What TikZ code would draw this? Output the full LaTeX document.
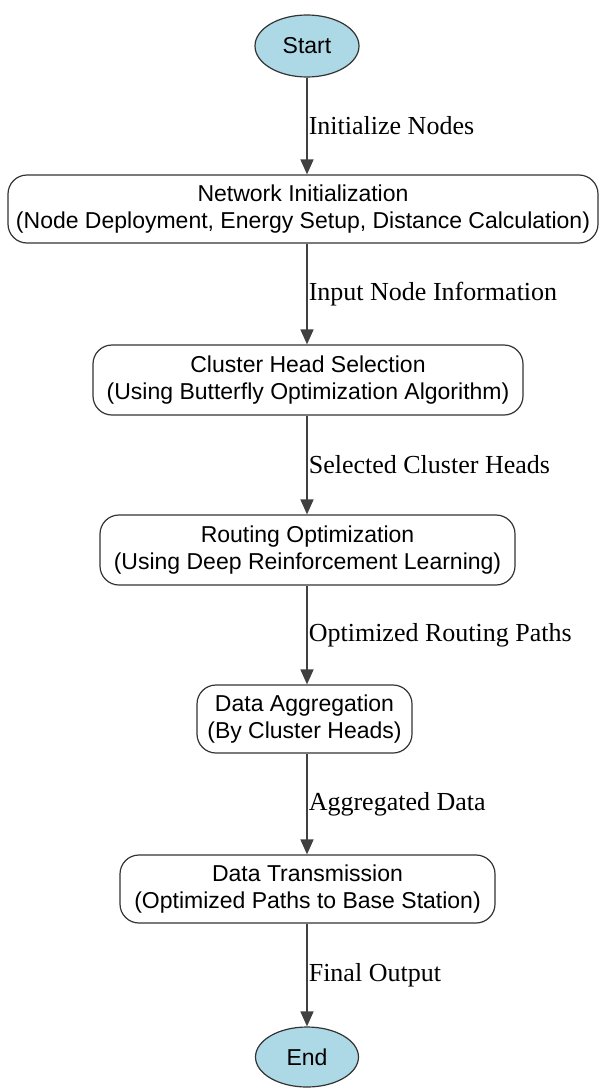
\documentclass[tikz,border=0pt]{standalone}
\usepackage{fontspec}
\setmainfont{Liberation Serif}
\newfontfamily\boxfont{Liberation Sans}
\usetikzlibrary{arrows.meta,shapes.geometric}
\definecolor{termblue}{RGB}{173,216,230}
\tikzset{
	term/.style={ellipse,draw=black!80,line width=1.2pt,fill=termblue,minimum width=104pt,minimum height=62pt,inner sep=0pt,font=\boxfont\fontsize{23}{28}\selectfont},
	stepbox/.style={draw=black!80,line width=1.2pt,rounded corners=19pt,align=center,minimum height=68pt,inner sep=0pt,font=\boxfont\fontsize{23}{27}\selectfont},
	flow/.style={draw=black!75,line width=1.6pt,-{Triangle[length=15pt,width=13pt]}},
	lbl/.style={anchor=west,inner sep=1pt,font=\fontsize{26}{30}\selectfont}
}
\begin{document}
\begin{tikzpicture}[x=1pt,y=-1pt]
	\useasboundingbox (0,0) rectangle (605,1092);
	\node[term] (start) at (307,46) {Start};
	\node[stepbox,minimum width=590pt] (init) at (303,209) {Network Initialization\\(Node Deployment, Energy Setup, Distance Calculation)};
	\node[stepbox,minimum width=430pt,minimum height=70pt] (chs) at (308,380) {Cluster Head Selection\\(Using Butterfly Optimization Algorithm)};
	\node[stepbox,minimum width=415pt,minimum height=70pt] (route) at (307.5,550) {Routing Optimization\\(Using Deep Reinforcement Learning)};
	\node[stepbox,minimum width=215pt] (aggr) at (304.5,719) {Data Aggregation\\(By Cluster Heads)};
	\node[stepbox,minimum width=375pt] (trans) at (307.5,889) {Data Transmission\\(Optimized Paths to Base Station)};
	\node[term,minimum width=103pt,minimum height=60pt] (end) at (307,1057) {End};
	% edges with labels
	\draw[flow] (start) -- node[lbl] (l1) {Initialize Nodes} (start|-init.north);
	\draw[flow] (start|-init.south) -- node[lbl] (l2) {Input Node Information} (start|-chs.north);
	\draw[flow] (start|-chs.south) -- node[lbl] (l3) {Selected Cluster Heads} (start|-route.north);
	\draw[flow] (start|-route.south) -- node[lbl] (l4) {Optimized Routing Paths} (start|-aggr.north);
	\draw[flow] (start|-aggr.south) -- node[lbl] (l5) {Aggregated Data} (start|-trans.north);
	\draw[flow] (start|-trans.south) -- node[lbl] (l6) {Final Output} (end);
\end{tikzpicture}
\end{document}
